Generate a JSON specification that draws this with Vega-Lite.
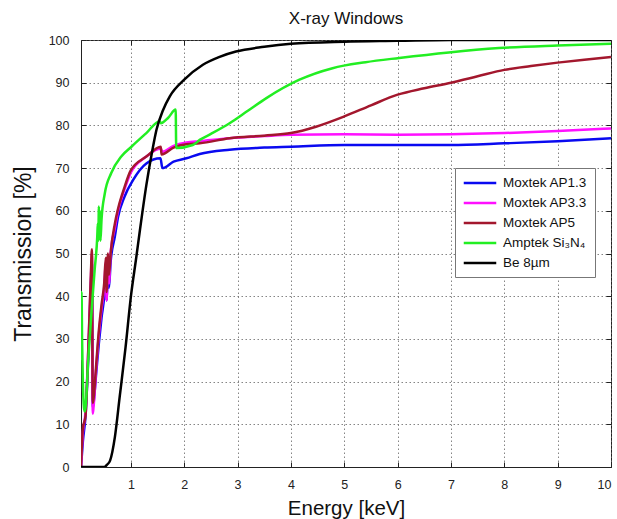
{
  "$schema": "https://vega.github.io/schema/vega-lite/v6.json",
  "width": 530,
  "height": 427,
  "autosize": {"type": "none"},
  "padding": {"left": 81, "top": 40, "right": 6, "bottom": 52},
  "background": "white",
  "title": {"text": "X-ray Windows", "fontSize": 17, "font": "Liberation Sans", "fontWeight": "normal", "color": "#111", "offset": 6, "anchor": "middle"},
  "config": {
    "font": "Liberation Sans",
    "view": {"stroke": "#222", "strokeWidth": 1},
    "axis": {
      "gridColor": "#666", "gridDash": [1.5, 2.5], "gridOpacity": 0.8, "gridWidth": 1,
      "domainColor": "#222", "tickColor": "#222", "tickSize": -5,
      "labelFontSize": 12.5, "labelColor": "#222", "labelFont": "Liberation Sans",
      "titleFontWeight": "normal", "titleColor": "#111", "titleFont": "Liberation Sans"
    },
    "legend": {
      "orient": "none", "legendX": 374, "legendY": 128,
      "padding": 7, "strokeColor": "#777", "fillColor": "white",
      "labelFontSize": 13.5, "labelColor": "#111", "labelFont": "Liberation Sans",
      "symbolType": "M-2.5,0H2.5", "symbolSize": 169, "symbolStrokeWidth": 2.5, "symbolOffset": 10,
      "rowPadding": 5, "labelOffset": 15, "title": null
    }
  },
  "data": {"values": [
    {"s":"Moxtek AP1.3","E":0.065,"T":0},{"s":"Moxtek AP1.3","E":0.1,"T":6},{"s":"Moxtek AP1.3","E":0.15,"T":12},{"s":"Moxtek AP1.3","E":0.2,"T":25},{"s":"Moxtek AP1.3","E":0.25,"T":42},{"s":"Moxtek AP1.3","E":0.27,"T":48},{"s":"Moxtek AP1.3","E":0.285,"T":14},{"s":"Moxtek AP1.3","E":0.3,"T":15},{"s":"Moxtek AP1.3","E":0.35,"T":22},{"s":"Moxtek AP1.3","E":0.4,"T":29},{"s":"Moxtek AP1.3","E":0.45,"T":35},{"s":"Moxtek AP1.3","E":0.5,"T":40},{"s":"Moxtek AP1.3","E":0.53,"T":46},{"s":"Moxtek AP1.3","E":0.545,"T":39},{"s":"Moxtek AP1.3","E":0.57,"T":46},{"s":"Moxtek AP1.3","E":0.59,"T":42},{"s":"Moxtek AP1.3","E":0.62,"T":48},{"s":"Moxtek AP1.3","E":0.7,"T":54},{"s":"Moxtek AP1.3","E":0.76,"T":58.6},{"s":"Moxtek AP1.3","E":0.88,"T":63.3},{"s":"Moxtek AP1.3","E":1.04,"T":67.2},{"s":"Moxtek AP1.3","E":1.29,"T":71.1},{"s":"Moxtek AP1.3","E":1.555,"T":72.3},{"s":"Moxtek AP1.3","E":1.59,"T":70},{"s":"Moxtek AP1.3","E":1.8,"T":71.5},{"s":"Moxtek AP1.3","E":2.04,"T":72.3},{"s":"Moxtek AP1.3","E":2.29,"T":73.3},{"s":"Moxtek AP1.3","E":2.85,"T":74.3},{"s":"Moxtek AP1.3","E":3.5,"T":74.8},{"s":"Moxtek AP1.3","E":4,"T":75},{"s":"Moxtek AP1.3","E":5,"T":75.4},{"s":"Moxtek AP1.3","E":6,"T":75.4},{"s":"Moxtek AP1.3","E":7,"T":75.4},{"s":"Moxtek AP1.3","E":8,"T":75.8},{"s":"Moxtek AP1.3","E":9,"T":76.3},{"s":"Moxtek AP1.3","E":10,"T":77},
    {"s":"Moxtek AP3.3","E":0.065,"T":0},{"s":"Moxtek AP3.3","E":0.1,"T":8},{"s":"Moxtek AP3.3","E":0.15,"T":13},{"s":"Moxtek AP3.3","E":0.2,"T":27},{"s":"Moxtek AP3.3","E":0.25,"T":44},{"s":"Moxtek AP3.3","E":0.27,"T":50},{"s":"Moxtek AP3.3","E":0.285,"T":12.5},{"s":"Moxtek AP3.3","E":0.3,"T":14},{"s":"Moxtek AP3.3","E":0.35,"T":23},{"s":"Moxtek AP3.3","E":0.4,"T":31},{"s":"Moxtek AP3.3","E":0.45,"T":37},{"s":"Moxtek AP3.3","E":0.5,"T":42},{"s":"Moxtek AP3.3","E":0.53,"T":48},{"s":"Moxtek AP3.3","E":0.545,"T":39},{"s":"Moxtek AP3.3","E":0.57,"T":48},{"s":"Moxtek AP3.3","E":0.59,"T":43},{"s":"Moxtek AP3.3","E":0.62,"T":50},{"s":"Moxtek AP3.3","E":0.7,"T":56},{"s":"Moxtek AP3.3","E":0.76,"T":60},{"s":"Moxtek AP3.3","E":0.88,"T":65},{"s":"Moxtek AP3.3","E":1.0,"T":69},{"s":"Moxtek AP3.3","E":1.29,"T":72.7},{"s":"Moxtek AP3.3","E":1.56,"T":74.6},{"s":"Moxtek AP3.3","E":1.59,"T":73.8},{"s":"Moxtek AP3.3","E":1.8,"T":75.2},{"s":"Moxtek AP3.3","E":2.04,"T":76},{"s":"Moxtek AP3.3","E":2.29,"T":76.3},{"s":"Moxtek AP3.3","E":2.85,"T":77},{"s":"Moxtek AP3.3","E":3.5,"T":77.5},{"s":"Moxtek AP3.3","E":4,"T":77.8},{"s":"Moxtek AP3.3","E":5,"T":77.9},{"s":"Moxtek AP3.3","E":6,"T":77.8},{"s":"Moxtek AP3.3","E":7,"T":77.9},{"s":"Moxtek AP3.3","E":8,"T":78.2},{"s":"Moxtek AP3.3","E":9,"T":78.7},{"s":"Moxtek AP3.3","E":10,"T":79.3},
    {"s":"Moxtek AP5","E":0.065,"T":0},{"s":"Moxtek AP5","E":0.1,"T":9},{"s":"Moxtek AP5","E":0.15,"T":12},{"s":"Moxtek AP5","E":0.2,"T":27},{"s":"Moxtek AP5","E":0.25,"T":45},{"s":"Moxtek AP5","E":0.27,"T":51},{"s":"Moxtek AP5","E":0.285,"T":15},{"s":"Moxtek AP5","E":0.3,"T":16},{"s":"Moxtek AP5","E":0.35,"T":24},{"s":"Moxtek AP5","E":0.4,"T":32},{"s":"Moxtek AP5","E":0.45,"T":38},{"s":"Moxtek AP5","E":0.5,"T":43},{"s":"Moxtek AP5","E":0.53,"T":49},{"s":"Moxtek AP5","E":0.545,"T":41},{"s":"Moxtek AP5","E":0.57,"T":50},{"s":"Moxtek AP5","E":0.59,"T":45},{"s":"Moxtek AP5","E":0.62,"T":50},{"s":"Moxtek AP5","E":0.7,"T":57},{"s":"Moxtek AP5","E":0.76,"T":60.5},{"s":"Moxtek AP5","E":0.88,"T":65.5},{"s":"Moxtek AP5","E":1.0,"T":69.5},{"s":"Moxtek AP5","E":1.29,"T":72.7},{"s":"Moxtek AP5","E":1.56,"T":75},{"s":"Moxtek AP5","E":1.575,"T":73.2},{"s":"Moxtek AP5","E":1.8,"T":74.8},{"s":"Moxtek AP5","E":2.04,"T":75.6},{"s":"Moxtek AP5","E":2.29,"T":75.8},{"s":"Moxtek AP5","E":2.85,"T":77},{"s":"Moxtek AP5","E":3.5,"T":77.6},{"s":"Moxtek AP5","E":4,"T":78.2},{"s":"Moxtek AP5","E":4.47,"T":79.7},{"s":"Moxtek AP5","E":5,"T":82.1},{"s":"Moxtek AP5","E":5.5,"T":84.7},{"s":"Moxtek AP5","E":6,"T":87.2},{"s":"Moxtek AP5","E":6.5,"T":88.7},{"s":"Moxtek AP5","E":7,"T":90},{"s":"Moxtek AP5","E":7.5,"T":91.5},{"s":"Moxtek AP5","E":8,"T":93},{"s":"Moxtek AP5","E":8.5,"T":93.9},{"s":"Moxtek AP5","E":9,"T":94.7},{"s":"Moxtek AP5","E":9.5,"T":95.4},{"s":"Moxtek AP5","E":10,"T":96},
    {"s":"Amptek Si₃N₄","E":0.065,"T":25},{"s":"Amptek Si₃N₄","E":0.075,"T":41},{"s":"Amptek Si₃N₄","E":0.085,"T":30},{"s":"Amptek Si₃N₄","E":0.1,"T":20},{"s":"Amptek Si₃N₄","E":0.13,"T":13},{"s":"Amptek Si₃N₄","E":0.15,"T":14},{"s":"Amptek Si₃N₄","E":0.2,"T":25},{"s":"Amptek Si₃N₄","E":0.26,"T":36},{"s":"Amptek Si₃N₄","E":0.32,"T":46},{"s":"Amptek Si₃N₄","E":0.37,"T":54},{"s":"Amptek Si₃N₄","E":0.38,"T":57},{"s":"Amptek Si₃N₄","E":0.39,"T":53},{"s":"Amptek Si₃N₄","E":0.4,"T":61},{"s":"Amptek Si₃N₄","E":0.41,"T":54},{"s":"Amptek Si₃N₄","E":0.42,"T":60},{"s":"Amptek Si₃N₄","E":0.43,"T":53},{"s":"Amptek Si₃N₄","E":0.45,"T":58},{"s":"Amptek Si₃N₄","E":0.51,"T":64},{"s":"Amptek Si₃N₄","E":0.63,"T":68.8},{"s":"Amptek Si₃N₄","E":0.82,"T":72.7},{"s":"Amptek Si₃N₄","E":1.01,"T":75},{"s":"Amptek Si₃N₄","E":1.29,"T":78.2},{"s":"Amptek Si₃N₄","E":1.54,"T":81},{"s":"Amptek Si₃N₄","E":1.56,"T":80.5},{"s":"Amptek Si₃N₄","E":1.7,"T":81.8},{"s":"Amptek Si₃N₄","E":1.84,"T":83.7},{"s":"Amptek Si₃N₄","E":1.85,"T":74.7},{"s":"Amptek Si₃N₄","E":2.16,"T":75.4},{"s":"Amptek Si₃N₄","E":2.29,"T":76.6},{"s":"Amptek Si₃N₄","E":2.5,"T":78},{"s":"Amptek Si₃N₄","E":2.85,"T":80.5},{"s":"Amptek Si₃N₄","E":3.2,"T":83.5},{"s":"Amptek Si₃N₄","E":3.54,"T":86.4},{"s":"Amptek Si₃N₄","E":4.16,"T":90.7},{"s":"Amptek Si₃N₄","E":4.78,"T":93.4},{"s":"Amptek Si₃N₄","E":5.4,"T":94.8},{"s":"Amptek Si₃N₄","E":6.03,"T":95.8},{"s":"Amptek Si₃N₄","E":6.96,"T":97.1},{"s":"Amptek Si₃N₄","E":7.9,"T":98.1},{"s":"Amptek Si₃N₄","E":9,"T":98.7},{"s":"Amptek Si₃N₄","E":10,"T":99.1},
    {"s":"Be 8µm","E":0.065,"T":0},{"s":"Be 8µm","E":0.5,"T":0},{"s":"Be 8µm","E":0.55,"T":0.5},{"s":"Be 8µm","E":0.61,"T":1.5},{"s":"Be 8µm","E":0.7,"T":7},{"s":"Be 8µm","E":0.79,"T":16.4},{"s":"Be 8µm","E":0.9,"T":28},{"s":"Be 8µm","E":1.0,"T":39.9},{"s":"Be 8µm","E":1.1,"T":49},{"s":"Be 8µm","E":1.17,"T":55.5},{"s":"Be 8µm","E":1.29,"T":66},{"s":"Be 8µm","E":1.4,"T":74},{"s":"Be 8µm","E":1.48,"T":79},{"s":"Be 8µm","E":1.6,"T":83.5},{"s":"Be 8µm","E":1.73,"T":86.8},{"s":"Be 8µm","E":2.0,"T":90.7},{"s":"Be 8µm","E":2.35,"T":94.2},{"s":"Be 8µm","E":2.65,"T":96},{"s":"Be 8µm","E":2.97,"T":97.3},{"s":"Be 8µm","E":3.5,"T":98.4},{"s":"Be 8µm","E":4,"T":99.1},{"s":"Be 8µm","E":5,"T":99.6},{"s":"Be 8µm","E":6,"T":99.8},{"s":"Be 8µm","E":7,"T":100},{"s":"Be 8µm","E":8,"T":100},{"s":"Be 8µm","E":10,"T":100}
  ]},
  "layer": [
    {
      "mark": {"type": "line", "strokeWidth": 2.5, "interpolate": "monotone", "clip": true},
      "encoding": {
        "x": {"field": "E", "type": "quantitative", "title": "Energy [keV]",
          "scale": {"domain": [0.065, 10], "nice": false, "zero": false},
          "axis": {"values": [1,2,3,4,5,6,7,8,9,10], "labelPadding": 16, "titlePadding": 8, "titleFontSize": 20.5}},
        "y": {"field": "T", "type": "quantitative", "title": "Transmission [%]",
          "scale": {"domain": [0, 100], "nice": false},
          "axis": {"values": [0,10,20,30,40,50,60,70,80,90,100], "labelPadding": 17, "titlePadding": 13, "titleFontSize": 23}},
        "color": {"field": "s", "type": "nominal",
          "scale": {"domain": ["Moxtek AP1.3","Moxtek AP3.3","Moxtek AP5","Amptek Si₃N₄","Be 8µm"],
                    "range": ["#0a0af0","#ff10ff","#a3172d","#22ee22","#000000"]}}
      }
    },
    {
      "mark": {"type": "line", "opacity": 0, "clip": true},
      "encoding": {
        "x": {"field": "E", "type": "quantitative",
          "axis": {"orient": "top", "values": [1,2,3,4,5,6,7,8,9,10], "labels": false, "title": null, "grid": false, "domain": false, "tickSize": -5}},
        "y": {"field": "T", "type": "quantitative",
          "axis": {"orient": "right", "values": [0,10,20,30,40,50,60,70,80,90,100], "labels": false, "title": null, "grid": false, "domain": false, "tickSize": -5}}
      }
    }
  ],
  "resolve": {"axis": {"x": "independent", "y": "independent"}}
}
